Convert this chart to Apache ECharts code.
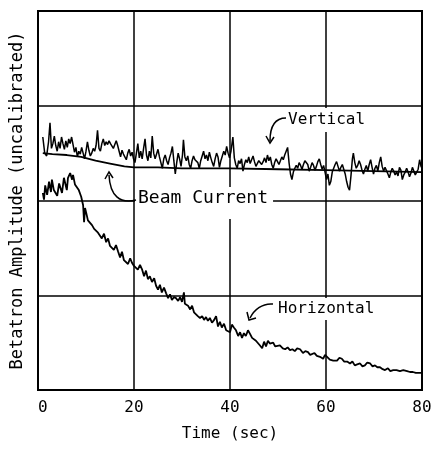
<!DOCTYPE html>
<html>
<head>
<meta charset="utf-8">
<script src="https://cdn.jsdelivr.net/npm/echarts@6/dist/echarts.min.js"></script>
<style>
  html, body { margin: 0; padding: 0; background: #fff; }
  #chart { width: 437px; height: 453px; }
</style>
</head>
<body>
<div id="chart"></div>
<script>
// time ticks (sec)
const timeTicks = [0, 20, 40, 60, 80]

// [time, amplitude], amplitude in grid divisions
const horizontal = [
  [1.0, 2.08], [1.25, 2.01], [1.5, 2.16], [1.9, 2.06], [2.3, 2.20], [2.7, 2.09], [2.9, 2.22],
  [3.3, 2.11], [3.5, 2.13], [4.0, 2.05], [4.4, 2.18], [4.6, 2.20], [5.0, 2.08], [5.4, 2.24],
  [5.6, 2.26], [6.0, 2.11], [6.25, 2.24], [6.7, 2.29], [7.1, 2.22], [7.3, 2.27], [7.7, 2.17],
  [8.1, 2.18], [8.5, 2.11], [9.0, 2.04], [9.4, 1.95], [9.6, 1.77], [9.8, 1.92], [10.0, 1.88],
  [10.4, 1.79], [10.8, 1.77], [11.25, 1.74], [11.7, 1.70], [12.1, 1.72], [12.5, 1.66], [12.9, 1.67],
  [13.3, 1.60], [13.75, 1.65], [14.2, 1.56], [14.6, 1.60], [15.0, 1.52], [15.4, 1.54], [15.8, 1.48],
  [16.25, 1.53], [16.7, 1.46], [17.1, 1.40], [17.5, 1.46], [17.9, 1.37], [18.3, 1.39], [18.75, 1.33],
  [19.2, 1.39], [19.6, 1.34], [20.0, 1.31], [20.4, 1.33], [20.8, 1.27], [21.25, 1.32], [21.7, 1.27],
  [22.1, 1.20], [22.5, 1.26], [22.9, 1.17], [23.3, 1.20], [23.75, 1.14], [24.2, 1.18], [24.6, 1.10],
  [25.0, 1.06], [25.4, 1.11], [25.8, 1.03], [26.25, 1.08], [26.7, 1.02], [27.1, 0.97], [27.5, 1.01],
  [27.9, 0.95], [28.3, 0.98], [28.75, 0.97], [29.2, 0.94], [29.6, 0.98], [30.0, 0.93], [30.4, 1.03],
  [30.6, 0.91], [31.25, 0.89], [31.7, 0.85], [32.1, 0.89], [32.5, 0.82], [32.9, 0.84], [33.3, 0.78],
  [33.75, 0.76], [34.2, 0.78], [34.6, 0.74], [35.0, 0.77], [35.4, 0.73], [35.8, 0.76], [36.25, 0.71],
  [36.7, 0.74], [37.1, 0.78], [37.5, 0.67], [37.9, 0.72], [38.3, 0.66], [38.75, 0.70], [39.2, 0.63],
  [39.6, 0.65], [40.0, 0.61], [40.4, 0.69], [40.8, 0.66], [41.25, 0.63], [41.7, 0.57], [42.1, 0.61],
  [42.5, 0.55], [42.9, 0.60], [43.3, 0.57], [43.75, 0.63], [44.2, 0.59], [44.6, 0.55], [45.0, 0.57],
  [45.4, 0.52], [45.8, 0.54], [46.25, 0.47], [46.7, 0.44], [47.1, 0.51], [47.5, 0.46], [47.9, 0.52],
  [48.3, 0.49], [49.0, 0.50], [49.4, 0.46], [49.8, 0.45], [50.4, 0.47], [51.0, 0.44], [51.5, 0.43],
  [52.0, 0.45], [52.5, 0.42], [53.0, 0.43], [53.5, 0.41], [54.0, 0.44], [54.6, 0.43], [55.2, 0.39],
  [55.7, 0.41], [56.25, 0.40], [56.7, 0.37], [57.1, 0.38], [57.6, 0.39], [58.1, 0.36], [58.75, 0.35],
  [59.4, 0.33], [59.8, 0.37], [60.2, 0.35], [60.8, 0.32], [61.5, 0.31], [62.3, 0.31], [62.8, 0.34],
  [63.3, 0.33], [63.8, 0.30], [64.4, 0.30], [65.0, 0.28], [65.5, 0.30], [66.0, 0.26], [66.5, 0.27],
  [67.1, 0.28], [67.6, 0.25], [68.1, 0.26], [68.6, 0.29], [69.2, 0.28], [69.7, 0.25], [70.2, 0.26],
  [70.7, 0.24], [71.25, 0.24], [71.8, 0.22], [72.3, 0.21], [72.9, 0.23], [73.4, 0.20], [74.0, 0.21],
  [74.7, 0.21], [75.4, 0.20], [76.1, 0.21], [76.9, 0.20], [77.5, 0.19], [78.1, 0.19], [78.7, 0.18],
  [79.2, 0.18], [80.0, 0.18]
]

const vertical = [
  [1.0, 2.67], [1.4, 2.50], [1.8, 2.47], [2.2, 2.62], [2.5, 2.82], [2.8, 2.55], [3.1, 2.60],
  [3.4, 2.68], [3.7, 2.58], [4.0, 2.52], [4.3, 2.62], [4.6, 2.55], [4.9, 2.67], [5.2, 2.60],
  [5.5, 2.54], [5.8, 2.63], [6.1, 2.56], [6.4, 2.65], [6.7, 2.60], [7.0, 2.67], [7.3, 2.59],
  [7.6, 2.51], [7.9, 2.56], [8.2, 2.46], [8.5, 2.52], [8.8, 2.49], [9.1, 2.56], [9.4, 2.50],
  [9.7, 2.44], [10.0, 2.52], [10.3, 2.62], [10.6, 2.53], [10.9, 2.47], [11.2, 2.50], [11.5, 2.55],
  [11.8, 2.52], [12.1, 2.58], [12.4, 2.74], [12.7, 2.55], [13.0, 2.52], [13.3, 2.60], [13.6, 2.65],
  [13.9, 2.58], [14.2, 2.62], [14.5, 2.59], [14.8, 2.63], [15.1, 2.60], [15.4, 2.62], [15.7, 2.55],
  [16.0, 2.59], [16.3, 2.63], [16.6, 2.58], [16.9, 2.52], [17.2, 2.46], [17.5, 2.53], [17.8, 2.49],
  [18.1, 2.47], [18.4, 2.43], [18.7, 2.50], [19.0, 2.54], [19.3, 2.47], [19.6, 2.51], [19.9, 2.44],
  [20.2, 2.40], [20.5, 2.50], [20.8, 2.60], [21.1, 2.45], [21.4, 2.52], [21.7, 2.44], [22.0, 2.55],
  [22.3, 2.65], [22.6, 2.48], [22.9, 2.42], [23.2, 2.52], [23.5, 2.45], [23.8, 2.68], [24.1, 2.50],
  [24.4, 2.44], [24.7, 2.49], [25.0, 2.54], [25.3, 2.46], [25.6, 2.40], [25.9, 2.34], [26.2, 2.44],
  [26.5, 2.48], [26.8, 2.42], [27.1, 2.38], [27.4, 2.45], [27.7, 2.50], [28.0, 2.57], [28.3, 2.42],
  [28.6, 2.28], [28.9, 2.40], [29.2, 2.50], [29.5, 2.44], [29.8, 2.36], [30.1, 2.48], [30.3, 2.64],
  [30.6, 2.46], [30.9, 2.42], [31.2, 2.47], [31.5, 2.38], [31.8, 2.34], [32.1, 2.42], [32.4, 2.47],
  [32.7, 2.43], [33.0, 2.45], [33.3, 2.40], [33.6, 2.34], [33.9, 2.42], [34.2, 2.47], [34.5, 2.52],
  [34.8, 2.44], [35.1, 2.48], [35.4, 2.42], [35.7, 2.51], [36.0, 2.45], [36.3, 2.40], [36.6, 2.36],
  [36.9, 2.44], [37.2, 2.50], [37.5, 2.46], [37.8, 2.35], [38.1, 2.42], [38.4, 2.47], [38.7, 2.52],
  [39.0, 2.48], [39.3, 2.57], [39.6, 2.50], [39.9, 2.45], [40.2, 2.52], [40.6, 2.67], [40.9, 2.45],
  [41.2, 2.38], [41.5, 2.34], [41.8, 2.42], [42.1, 2.39], [42.4, 2.44], [42.7, 2.31], [43.0, 2.38],
  [43.3, 2.43], [43.6, 2.40], [43.9, 2.46], [44.2, 2.39], [44.5, 2.43], [44.8, 2.47], [45.1, 2.41],
  [45.4, 2.36], [45.7, 2.34], [46.0, 2.42], [46.3, 2.44], [46.6, 2.38], [46.9, 2.41], [47.2, 2.45],
  [47.5, 2.40], [47.8, 2.48], [48.1, 2.42], [48.4, 2.46], [48.7, 2.38], [49.0, 2.34], [49.3, 2.40],
  [49.6, 2.44], [49.9, 2.41], [50.2, 2.38], [50.5, 2.42], [50.8, 2.46], [51.1, 2.43], [51.4, 2.48],
  [51.7, 2.52], [52.0, 2.56], [52.3, 2.40], [52.6, 2.28], [52.9, 2.22], [53.2, 2.30], [53.5, 2.34],
  [53.8, 2.37], [54.1, 2.34], [54.4, 2.40], [54.7, 2.37], [55.0, 2.33], [55.3, 2.38], [55.6, 2.42],
  [55.9, 2.44], [56.2, 2.38], [56.5, 2.31], [56.8, 2.35], [57.1, 2.40], [57.4, 2.37], [57.7, 2.32],
  [58.0, 2.36], [58.3, 2.41], [58.6, 2.44], [58.9, 2.38], [59.2, 2.33], [59.5, 2.37], [59.8, 2.30],
  [60.1, 2.22], [60.4, 2.28], [60.7, 2.16], [61.0, 2.20], [61.3, 2.30], [61.6, 2.34], [61.9, 2.38],
  [62.2, 2.41], [62.5, 2.36], [62.8, 2.31], [63.1, 2.35], [63.4, 2.38], [63.7, 2.33], [64.0, 2.28],
  [64.3, 2.20], [64.6, 2.14], [64.9, 2.11], [65.2, 2.26], [65.5, 2.44], [65.7, 2.50], [66.0, 2.40],
  [66.3, 2.34], [66.6, 2.37], [66.9, 2.42], [67.2, 2.38], [67.5, 2.32], [67.8, 2.28], [68.1, 2.33],
  [68.4, 2.37], [68.7, 2.31], [69.0, 2.38], [69.3, 2.43], [69.6, 2.35], [69.9, 2.28], [70.2, 2.34],
  [70.5, 2.37], [70.8, 2.31], [71.1, 2.40], [71.4, 2.46], [71.7, 2.36], [72.0, 2.31], [72.3, 2.35],
  [72.6, 2.33], [72.9, 2.28], [73.2, 2.24], [73.5, 2.30], [73.8, 2.34], [74.1, 2.31], [74.4, 2.27],
  [74.7, 2.30], [75.0, 2.26], [75.3, 2.35], [75.6, 2.32], [75.9, 2.22], [76.2, 2.27], [76.5, 2.30],
  [76.8, 2.34], [77.1, 2.30], [77.4, 2.25], [77.7, 2.29], [78.0, 2.35], [78.3, 2.31], [78.6, 2.27],
  [78.9, 2.30], [79.2, 2.33], [79.5, 2.43], [79.8, 2.36], [80.0, 2.34]
]

const beamCurrent = [
  [1, 2.50], [3, 2.49], [6, 2.48], [9, 2.46], [12, 2.42], [15, 2.39], [18, 2.36], [20, 2.35],
  [25, 2.35], [30, 2.34], [40, 2.34], [50, 2.33], [60, 2.32], [70, 2.31], [80, 2.30]
]

const FONT = '"DejaVu Sans Mono", monospace'

let chartDom = document.getElementById('chart')
let myChart = echarts.init(chartDom, null, { renderer: 'canvas' })

function traceSeries (name, data, width) {
  return {
    name: name,
    type: 'line',
    data: data,
    showSymbol: false,
    animation: false,
    lineStyle: { color: '#000', width: width },
    z: 3
  }
}

let option = {
  backgroundColor: '#fff',
  animation: false,
  grid: {
    left: 38,
    right: 15,
    top: 11,
    bottom: 63,
    show: true,
    borderColor: '#000',
    borderWidth: 2
  },
  xAxis: {
    type: 'value',
    min: timeTicks[0],
    max: timeTicks[timeTicks.length - 1],
    interval: 20,
    name: 'Time (sec)',
    nameLocation: 'middle',
    nameGap: 36,
    nameTextStyle: { fontFamily: FONT, fontSize: 16, color: '#000' },
    axisLine: { show: false },
    axisTick: { show: false },
    axisLabel: {
      fontFamily: FONT,
      fontSize: 16,
      color: '#000',
      margin: 10,
      alignMinLabel: 'left'
    },
    splitLine: { show: true, lineStyle: { color: '#000', width: 1.5 } }
  },
  yAxis: {
    type: 'value',
    min: 0,
    max: 4,
    interval: 1,
    name: 'Betatron Amplitude (uncalibrated)',
    nameLocation: 'middle',
    nameRotate: 90,
    nameGap: 12,
    nameTextStyle: { fontFamily: FONT, fontSize: 17, color: '#000' },
    axisLine: { show: false },
    axisTick: { show: false },
    axisLabel: { show: false },
    splitLine: { show: true, lineStyle: { color: '#000', width: 1.5 } }
  },
  series: [
    traceSeries('Beam Current', beamCurrent, 1.8),
    traceSeries('Vertical', vertical, 1.5),
    traceSeries('Horizontal', horizontal, 1.8)
  ],
  // hand drawn labels and arrows
  graphic: [
    {
      type: 'text', left: 286, top: 108, z: 10,
      style: { text: 'Vertical', font: '16px ' + FONT, fill: '#000', backgroundColor: '#fff', padding: [4, 2] }
    },
    {
      type: 'bezierCurve', z: 10,
      shape: { x1: 286, y1: 118, x2: 270, y2: 141, cpx1: 274, cpy1: 118, cpx2: 270, cpy2: 128 },
      style: { stroke: '#000', lineWidth: 1.5, fill: null }
    },
    {
      type: 'polyline', z: 10,
      shape: { points: [[266, 136], [270, 143], [274, 137]] },
      style: { stroke: '#000', lineWidth: 1.5, fill: null }
    },
    {
      type: 'text', left: 135, top: 187, z: 10,
      style: { text: 'Beam Current', font: '18px ' + FONT, fill: '#000', backgroundColor: '#fff', padding: [2, 5, 12, 3] }
    },
    {
      type: 'bezierCurve', z: 10,
      shape: { x1: 109, y1: 175, x2: 136, y2: 200, cpx1: 110, cpy1: 196, cpx2: 120, cpy2: 204 },
      style: { stroke: '#000', lineWidth: 1.5, fill: null }
    },
    {
      type: 'polyline', z: 10,
      shape: { points: [[105, 179], [109, 172], [113, 178]] },
      style: { stroke: '#000', lineWidth: 1.5, fill: null }
    },
    {
      type: 'text', left: 276, top: 298, z: 10,
      style: { text: 'Horizontal', font: '16px ' + FONT, fill: '#000', backgroundColor: '#fff', padding: [3, 2] }
    },
    {
      type: 'bezierCurve', z: 10,
      shape: { x1: 273, y1: 304, x2: 250, y2: 318, cpx1: 262, cpy1: 303, cpx2: 254, cpy2: 310 },
      style: { stroke: '#000', lineWidth: 1.5, fill: null }
    },
    {
      type: 'polyline', z: 10,
      shape: { points: [[247, 312], [249, 320], [256, 318]] },
      style: { stroke: '#000', lineWidth: 1.5, fill: null }
    }
  ]
}

myChart.setOption(option)
</script>
</body>
</html>
